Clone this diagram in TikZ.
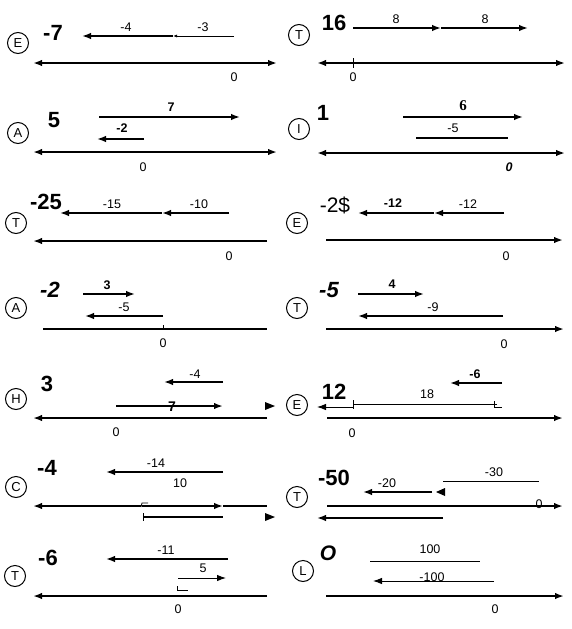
\documentclass[tikz,border=0pt]{standalone}
\usepackage{fontspec}
\setmainfont{Liberation Sans}
\newfontfamily\numserif{Liberation Serif}
\usetikzlibrary{arrows.meta}

\begin{document}
\begin{tikzpicture}[x=1pt,y=-1pt]
\tikzset{>={Latex[length=9pt,width=6.5pt]},
         numline/.style={line width=1.8pt},
         vec/.style={line width=1.5pt},
         thinvec/.style={line width=0.9pt},
         lbl/.style={font=\fontsize{12.5}{14}\selectfont,inner sep=0pt},
         lblb/.style={font=\fontsize{12.5}{14}\selectfont\bfseries,inner sep=0pt},
         hand/.style={font=\fontsize{22}{24}\selectfont\bfseries,inner sep=0pt},
         letter/.style={draw,circle,line width=1pt,minimum size=21pt,inner sep=0pt,
                        font=\fontsize{13}{15}\selectfont}}
\useasboundingbox (0,0) rectangle (572,629);
% E : -7
\node[letter] (cE1) at (18,43) {E};
\node[hand] (hE1) at (53,33) {-7};
\draw[vec,->] (173,36) -- (82,36);
\draw[thinvec,-{Latex[length=4pt,width=3pt]}] (234,36) -- (173,36);
\node[lbl] (aE1) at (126,27) {-4};
\node[lbl] (bE1) at (203,27) {-3};
\draw[numline,<->] (33,63) -- (277,63);
\node[lbl] (zE1) at (234,77) {0};
% A : 5
\node[letter] (cA1) at (18,133) {A};
\node[hand] (hA1) at (54,120) {5};
\draw[vec,->] (99,117) -- (240,117);
\node[lblb] (aA1) at (171,107) {7};
\draw[vec,->] (144,139) -- (97,139);
\node[lblb] (bA1) at (122,128) {-2};
\draw[numline,<->] (33,152) -- (277,152);
\node[lbl] (zA1) at (143,167) {0};
% T : 16
\node[letter] (cT1) at (299,35) {T};
\node[hand] (hT1) at (334,23) {16};
\draw[vec,->] (353,28) -- (441,28);
\draw[vec,->] (441,28) -- (528,28);
\node[lbl] (aT1) at (396,19) {8};
\node[lbl] (bT1) at (485,19) {8};
\draw[numline,<->] (317,63) -- (565,63);
\draw[line width=0.9pt] (353,58) -- (353,68);
\node[lbl] (zT1) at (353,77) {0};
% I : 1
\node[letter] (cI1) at (299,129) {I};
\node[hand] (hI1) at (323,113) {1};
\draw[vec,->] (403,117) -- (523,117);
\node[lbl,font=\fontsize{15}{17}\selectfont\numserif\bfseries] (aI1) at (463,106) {6};
\draw[vec] (416,138) -- (508,138);
\node[lbl] (bI1) at (453,128) {-5};
\draw[numline,<->] (317,153) -- (565,153);
\node[lbl,font=\fontsize{12.5}{14}\selectfont\itshape\bfseries] (zI1) at (509,167) {0};
% T : -25
\node[letter] (cT2) at (16,223) {T};
\node[hand] (hT2) at (46,202) {-25};
\draw[vec,->] (229,213) -- (162,213);
\draw[vec,->] (162,213) -- (60,213);
\node[lbl] (aT2) at (199,204) {-10};
\node[lbl] (bT2) at (112,204) {-15};
\draw[numline,->] (267,241) -- (33,241);
\node[lbl] (zT2) at (229,256) {0};
% A : -2
\node[letter] (cA2) at (16,308) {A};
\node[hand,font=\fontsize{22}{24}\selectfont\bfseries\itshape] (hA2) at (50,290) {-2};
\draw[vec,->] (83,294) -- (135,294);
\node[lblb] (aA2) at (107,285) {3};
\draw[vec,->] (163,316) -- (85,316);
\node[lbl] (bA2) at (124,307) {-5};
\draw[numline] (43,329) -- (267,329);
\draw[line width=0.9pt] (163,325) -- (163,329);
\node[lbl] (zA2) at (163,343) {0};
% E : -2$
\node[letter] (cE2) at (297,223) {E};
\node[lbl,font=\fontsize{21}{23}\selectfont] (hE2) at (335,205) {-2\$};
\draw[vec,->] (504,213) -- (434,213);
\draw[vec,->] (434,213) -- (358,213);
\node[lbl] (aE2) at (468,204) {-12};
\node[lblb] (bE2) at (393,203) {-12};
\draw[numline,->] (326,240) -- (563,240);
\node[lbl] (zE2) at (506,256) {0};
% T : -5
\node[letter] (cT3) at (297,308) {T};
\node[hand,font=\fontsize{22}{24}\selectfont\bfseries\itshape] (hT3) at (329,290) {-5};
\draw[vec,->] (358,294) -- (424,294);
\node[lblb] (aT3) at (392,284) {4};
\draw[vec,->] (503,316) -- (358,316);
\node[lbl] (bT3) at (433,307) {-9};
\draw[numline,->] (326,329) -- (564,329);
\node[lbl] (zT3) at (504,344) {0};
% H : 3
\node[letter] (cH1) at (16,399) {H};
\node[hand] (hH1) at (47,384) {3};
\draw[vec,->] (223,382) -- (164,382);
\node[lbl] (aH1) at (195,374) {-4};
\draw[line width=2.4pt,->] (116,406) -- (223,406);
\node[lbl,font=\fontsize{14}{16}\selectfont\bfseries] (bH1) at (172,407) {7};
\fill (265,402) -- (275,406) -- (265,410) -- cycle;
\draw[numline,->] (267,418) -- (33,418);
\node[lbl] (zH1) at (116,432) {0};
% C : -4
\node[letter] (cC1) at (16,487) {C};
\node[hand] (hC1) at (47,468) {-4};
\draw[vec,->] (223,472) -- (106,472);
\node[lbl] (aC1) at (156,463) {-14};
\node[lbl] (bC1) at (180,483) {10};
\draw[numline,->] (141,506) -- (33,506);
\draw[vec,->] (142,506) -- (223,506);
\draw[line width=0.8pt] (141,507) -- (142,503) -- (148,503);
\draw[numline] (223,506) -- (267,506);
\draw[vec] (143,517) -- (223,517);
\draw[line width=0.9pt] (143,513) -- (143,521);
\fill (265,513) -- (275,517) -- (265,521) -- cycle;
% T : -6
\node[letter] (cT4) at (15,576) {T};
\node[hand] (hT4) at (48,558) {-6};
\draw[vec,->] (228,559) -- (106,559);
\node[lbl] (aT4) at (166,550) {-11};
\draw[thinvec,->] (178,578) -- (226,578);
\node[lbl] (bT4) at (203,568) {5};
\draw[line width=0.7pt] (177,586) -- (177,590) -- (188,590);
\draw[numline,->] (267,596) -- (33,596);
\node[lbl] (zT4) at (178,609) {0};
% E : 12
\node[letter] (cE3) at (297,405) {E};
\node[hand] (hE3) at (334,392) {12};
\draw[vec,->] (502,383) -- (450,383);
\node[lblb] (aE3) at (475,374) {-6};
\draw[thinvec] (497,404) -- (353,404);
\draw[line width=0.9pt] (353,400) -- (353,409);
\draw[line width=0.9pt] (494,401) -- (494,407) -- (502,407);
\node[lbl] (bE3) at (427,394) {18};
\draw[thinvec,->] (353,407) -- (317,407);
\draw[numline,->] (327,418) -- (563,418);
\node[lbl] (zE3) at (352,433) {0};
% T : -50
\node[letter] (cT5) at (297,497) {T};
\node[hand] (hT5) at (334,478) {-50};
\draw[thinvec] (443,481) -- (539,481);
\node[lbl] (aT5) at (494,472) {-30};
\draw[vec,->] (432,492) -- (363,492);
\fill (445,488) -- (436,492) -- (445,496) -- cycle;
\node[lbl] (bT5) at (387,483) {-20};
\draw[numline,->] (327,506) -- (563,506);
\node[lbl] (zT5) at (539,504) {0};
\draw[vec,->] (443,518) -- (317,518);
% L : 0
\node[letter] (cL1) at (303,571) {L};
\node[hand,font=\fontsize{21}{23}\selectfont\bfseries\itshape] (hL1) at (328,553) {O};
\draw[thinvec] (370,561) -- (480,561);
\node[lbl] (aL1) at (430,549) {100};
\draw[thinvec,->] (494,581) -- (373,581);
\node[lbl] (bL1) at (432,577) {-100};
\draw[numline,->] (326,596) -- (564,596);
\node[lbl] (zL1) at (495,609) {0};
\end{tikzpicture}
\end{document}
